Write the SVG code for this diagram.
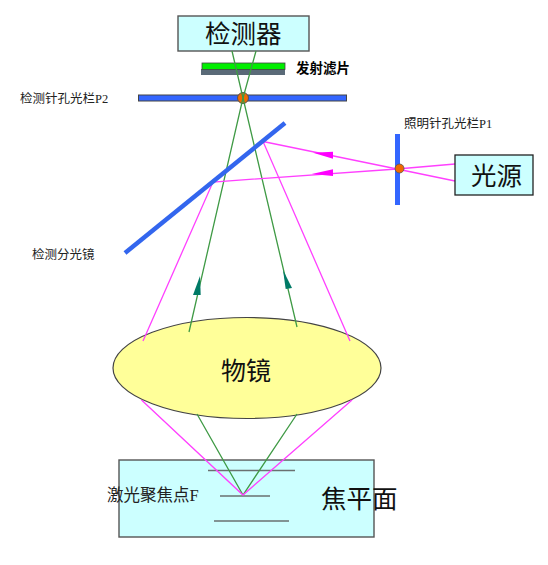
<svg xmlns="http://www.w3.org/2000/svg" width="548" height="565" viewBox="0 0 548 565">
<style>
text{font-family:"Liberation Serif","Noto Sans CJK SC",serif;fill:#222}
.big{font-family:"Noto Sans CJK SC","Liberation Sans",sans-serif;fill:#111}
.g{stroke:#3f9a45;stroke-width:1.3;fill:none}
.m{stroke:#ff40ff;stroke-width:1.3;fill:none}
.box{fill:#ccffff;stroke:#555;stroke-width:1.4}
.bar{fill:#3366ff;stroke:#444;stroke-width:1}
.dot{fill:#f06a00;stroke:#555;stroke-width:1}
.gh{fill:#007a66}
.mh{fill:#ff00ff}
.ln{stroke:#6a7070;stroke-width:1.5}
</style>
<g id="focal-plane"><rect class="box" x="119" y="460" width="255" height="77"/>
<line class="ln" x1="208" y1="470.500" x2="295" y2="470.500"/><line class="ln" x1="220" y1="496" x2="270" y2="496"/><line class="ln" x1="214" y1="521" x2="289" y2="521"/>
<text x="107" y="501" font-size="16.500">激光聚焦点F</text><text class="big" x="321" y="508" font-size="25.500">焦平面</text></g>
<g id="objective"><ellipse cx="247" cy="368" rx="134" ry="50.500" fill="#ffff99" stroke="#444" stroke-width="1.200"/><text class="big" x="221" y="380" font-size="25">物镜</text></g>
<g id="detector"><rect class="box" x="178" y="16" width="131" height="35"/><text class="big" x="205" y="43" font-size="25.500">检测器</text></g>
<g id="emission-filter"><rect x="201" y="69" width="84" height="6" fill="#5a6a78"/><rect x="202" y="63" width="83" height="6.500" fill="#00ee00" stroke="#444" stroke-width=".8"/><text x="296" y="73" font-size="13.500" font-weight="bold" style="font-family:'Noto Sans CJK SC',sans-serif;fill:#000">发射滤片</text></g>
<g id="pinhole-p2"><rect class="bar" x="138.500" y="95" width="208" height="6"/><circle class="dot" cx="243" cy="98" r="5.500"/><text x="20" y="103" font-size="12.500">检测针孔光栏P2</text></g>
<g id="connectors">
<path class="g" d="M232 51L243 98L189 332"/><path class="g" d="M256 51L243 98L297 327"/>
<path class="g" d="M197 414L243 495L297 414"/>
<path class="m" d="M143 341L213 182L397 169L455 164"/><path class="m" d="M350 341L263 141.500L397 169L455 181"/>
<path class="m" d="M141.500 400L243 495L352 400"/>
<path class="gh" d="M193 295L200 276L200.700 295Z"/><path class="gh" d="M283 270L292 288L285.700 289Z"/>
<path class="mh" d="M313 152.700L333 151.700L333 158.700Z"/><path class="mh" d="M311.700 174L333 169.300L333 176Z"/>
</g>
<g id="beamsplitter"><line x1="125" y1="253" x2="285" y2="123" stroke="#3366ee" stroke-width="4.500"/><text x="32" y="259" font-size="12.500">检测分光镜</text></g>
<g id="pinhole-p1"><rect x="395" y="134" width="5" height="71" fill="#3366ff"/><circle cx="399.500" cy="168.500" r="4.500" fill="#f06a00" stroke="#555" stroke-width=".8"/><text x="404" y="128" font-size="12.500">照明针孔光栏P1</text></g>
<g id="light-source"><rect x="455" y="155" width="78" height="40" fill="#ccffff" stroke="#222" stroke-width="1.300"/><text class="big" x="471" y="185" font-size="25.500">光源</text></g>
</svg>
